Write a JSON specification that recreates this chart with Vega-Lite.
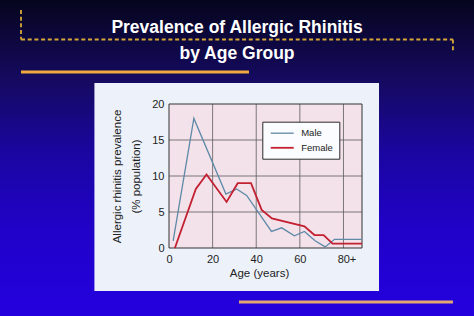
{
  "$schema": "https://vega.github.io/schema/vega-lite/v6.json",
  "width": 193,
  "height": 144,
  "autosize": {"type": "none"},
  "padding": {"left": 169, "top": 104, "right": 112, "bottom": 68},
  "background": "#150a80",
  "title": {
    "text": ["Prevalence of Allergic Rhinitis", "by Age Group"],
    "anchor": "middle",
    "frame": "group",
    "dx": -28.5,
    "offset": -66,
    "fontSize": 17.5,
    "fontWeight": "bold",
    "color": "#ffffff",
    "font": "Liberation Sans",
    "lineHeight": 26
  },
  "config": {
    "view": {"stroke": null},
    "font": "Liberation Sans",
    "axis": {"labelOverlap": false, "labelSeparation": 0},
    "axisY": {"labelOverlap": false, "tickCount": 5}
  },
  "datasets": {
    "prev": [
      {"sex": "Male", "age": 1.9, "prevalence": 1.0},
      {"sex": "Male", "age": 11.4, "prevalence": 18.0},
      {"sex": "Male", "age": 26.1, "prevalence": 7.5},
      {"sex": "Male", "age": 31.0, "prevalence": 8.2},
      {"sex": "Male", "age": 35.6, "prevalence": 7.3},
      {"sex": "Male", "age": 47.0, "prevalence": 2.3},
      {"sex": "Male", "age": 51.7, "prevalence": 2.8},
      {"sex": "Male", "age": 57.5, "prevalence": 1.7},
      {"sex": "Male", "age": 62.1, "prevalence": 2.3},
      {"sex": "Male", "age": 67.0, "prevalence": 1.0},
      {"sex": "Male", "age": 71.6, "prevalence": 0.15},
      {"sex": "Male", "age": 75.9, "prevalence": 1.2},
      {"sex": "Male", "age": 88.5, "prevalence": 1.2},
      {"sex": "Female", "age": 2.7, "prevalence": 0.0},
      {"sex": "Female", "age": 12.3, "prevalence": 8.2},
      {"sex": "Female", "age": 17.2, "prevalence": 10.2},
      {"sex": "Female", "age": 26.4, "prevalence": 6.4},
      {"sex": "Female", "age": 31.5, "prevalence": 9.0},
      {"sex": "Female", "age": 37.6, "prevalence": 9.0},
      {"sex": "Female", "age": 42.5, "prevalence": 5.3},
      {"sex": "Female", "age": 47.2, "prevalence": 4.1},
      {"sex": "Female", "age": 62.1, "prevalence": 3.0},
      {"sex": "Female", "age": 66.7, "prevalence": 1.8},
      {"sex": "Female", "age": 70.9, "prevalence": 1.8},
      {"sex": "Female", "age": 75.0, "prevalence": 0.6},
      {"sex": "Female", "age": 88.5, "prevalence": 0.6}
    ],
    "vgrid": [{"v": 20}, {"v": 40}, {"v": 60}, {"v": 80}],
    "hgrid": [{"v": 5}, {"v": 10}, {"v": 15}]
  },
  "layer": [
    {
      "data": {"values": [{}]},
      "mark": {
        "type": "rect",
        "fill": {
          "gradient": "linear", "x1": 0, "y1": 0, "x2": 0, "y2": 1,
          "stops": [
            {"offset": 0, "color": "#05051a"},
            {"offset": 0.26, "color": "#150a60"},
            {"offset": 0.48, "color": "#1a06a0"},
            {"offset": 0.72, "color": "#2002c8"},
            {"offset": 1, "color": "#2400e0"}
          ]
        }
      },
      "encoding": {
        "x": {"datum": -80, "type": "quantitative", "scale": {"domain": [0, 88.5], "nice": false, "zero": false}},
        "x2": {"datum": 145},
        "y": {"datum": 35, "type": "quantitative", "scale": {"domain": [0, 20], "nice": false, "zero": false}},
        "y2": {"datum": -10}
      }
    },
    {
      "data": {"values": [{}]},
      "mark": {"type": "rule", "stroke": "#d8a838", "strokeWidth": 1.8, "strokeDash": [4, 2.7]},
      "encoding": {
        "x": {"datum": -67.86, "type": "quantitative"},
        "x2": {"datum": 130.2},
        "y": {"datum": 28.96, "type": "quantitative"}
      }
    },
    {
      "data": {"values": [{}]},
      "mark": {"type": "rule", "stroke": "#d8a838", "strokeWidth": 1.8, "strokeDash": [4, 2.7]},
      "encoding": {
        "x": {"datum": -67.86, "type": "quantitative"},
        "y": {"datum": 33.06, "type": "quantitative"},
        "y2": {"datum": 28.96}
      }
    },
    {
      "data": {"values": [{}]},
      "mark": {"type": "rule", "stroke": "#d8a838", "strokeWidth": 1.8, "strokeDash": [4, 2.7]},
      "encoding": {
        "x": {"datum": 130.2, "type": "quantitative"},
        "y": {"datum": 28.96, "type": "quantitative"},
        "y2": {"datum": 27.08}
      }
    },
    {
      "data": {"values": [{}]},
      "mark": {"type": "rule", "stroke": "#eeaa3c", "strokeWidth": 3},
      "encoding": {
        "x": {"datum": -67.86, "type": "quantitative"},
        "x2": {"datum": 36.68},
        "y": {"datum": 24.44, "type": "quantitative"}
      }
    },
    {
      "data": {"values": [{}]},
      "mark": {"type": "rule", "stroke": "#e3a872", "strokeWidth": 3},
      "encoding": {
        "x": {"datum": 32.1, "type": "quantitative"},
        "x2": {"datum": 130.2},
        "y": {"datum": -7.5, "type": "quantitative"}
      }
    },
    {
      "data": {"values": [{}]},
      "mark": {"type": "rect", "fill": "#edf2fa"},
      "encoding": {
        "x": {"datum": -34.2, "type": "quantitative"},
        "x2": {"datum": 96.3},
        "y": {"datum": 22.92, "type": "quantitative"},
        "y2": {"datum": -5.97}
      }
    },
    {
      "data": {"values": [{}]},
      "mark": {"type": "rect", "fill": "#f3e2ea"},
      "encoding": {
        "x": {"datum": 0, "type": "quantitative"},
        "x2": {"datum": 88.5},
        "y": {"datum": 0, "type": "quantitative"},
        "y2": {"datum": 20}
      }
    },
    {
      "data": {"name": "vgrid"},
      "mark": {"type": "rule", "stroke": "#5a5a5a", "strokeWidth": 0.8},
      "encoding": {
        "x": {"field": "v", "type": "quantitative"},
        "y": {"datum": 0, "type": "quantitative"},
        "y2": {"datum": 20}
      }
    },
    {
      "data": {"name": "hgrid"},
      "mark": {"type": "rule", "stroke": "#5a5a5a", "strokeWidth": 0.8},
      "encoding": {
        "y": {"field": "v", "type": "quantitative"},
        "x": {"datum": 0, "type": "quantitative"},
        "x2": {"datum": 88.5}
      }
    },
    {
      "data": {"values": [{}]},
      "mark": {"type": "rect", "filled": false, "stroke": "#333333", "strokeWidth": 1},
      "encoding": {
        "x": {"datum": 0, "type": "quantitative"},
        "x2": {"datum": 88.5},
        "y": {"datum": 0, "type": "quantitative"},
        "y2": {"datum": 20}
      }
    },
    {
      "data": {"name": "prev"},
      "mark": {"type": "line"},
      "encoding": {
        "x": {
          "field": "age", "type": "quantitative", "title": "Age (years)",
          "scale": {"domain": [0, 88.5], "nice": false, "zero": false},
          "axis": {
            "values": [0, 20, 40, 60, 80],
            "labelExpr": "datum.value == 80 ? '80+' : datum.label",
            "labelOffset": {"condition": {"test": "datum.value == 80", "value": 3}, "value": 0},
            "ticks": false, "domain": false, "grid": false,
            "labelPadding": 5, "labelFontSize": 11, "labelColor": "#222222", "labelFont": "Liberation Sans",
            "labelFlush": false, "labelOverlap": false,
            "titleFontSize": 11.5, "titleFontWeight": "normal", "titleColor": "#222222", "titleFont": "Liberation Sans",
            "titlePadding": 3, "titleX": 90, "zindex": 2
          }
        },
        "y": {
          "field": "prevalence", "type": "quantitative",
          "title": ["Allergic rhinitis prevalence", "(% population)"],
          "scale": {"domain": [0, 20], "nice": false, "zero": false},
          "axis": {
            "values": [0, 5, 10, 15, 20],
            "tickCount": 5,
            "ticks": false, "domain": false, "grid": false,
            "labelPadding": 5, "labelFontSize": 11, "labelColor": "#222222", "labelFont": "Liberation Sans",
            "labelFlush": false, "labelOverlap": false, "labelBound": false,
            "titleFontSize": 11.5, "titleFontWeight": "normal", "titleColor": "#222222", "titleFont": "Liberation Sans",
            "titlePadding": 10, "titleLineHeight": 19, "zindex": 2
          }
        },
        "color": {
          "field": "sex", "type": "nominal",
          "scale": {"domain": ["Male", "Female"], "range": ["#5f8aa8", "#c32032"]},
          "legend": {
            "title": null, "orient": "none", "legendX": 93.3, "legendY": 17.7,
            "padding": 5.5, "fillColor": "#fbfcff", "strokeColor": "#2a2a2a",
            "symbolType": "M-2.3,0H2.3", "symbolSize": 100, "symbolStrokeWidth": 1.5,
            "symbolOffset": 8.4, "labelOffset": 13, "labelFontSize": 9.5, "labelColor": "#222222",
            "labelFont": "Liberation Sans", "rowPadding": 3.6
          }
        },
        "strokeWidth": {
          "field": "sex", "type": "nominal",
          "scale": {"type": "ordinal", "domain": ["Male", "Female"], "range": [1.3, 1.8]},
          "legend": null
        }
      }
    }
  ]
}
